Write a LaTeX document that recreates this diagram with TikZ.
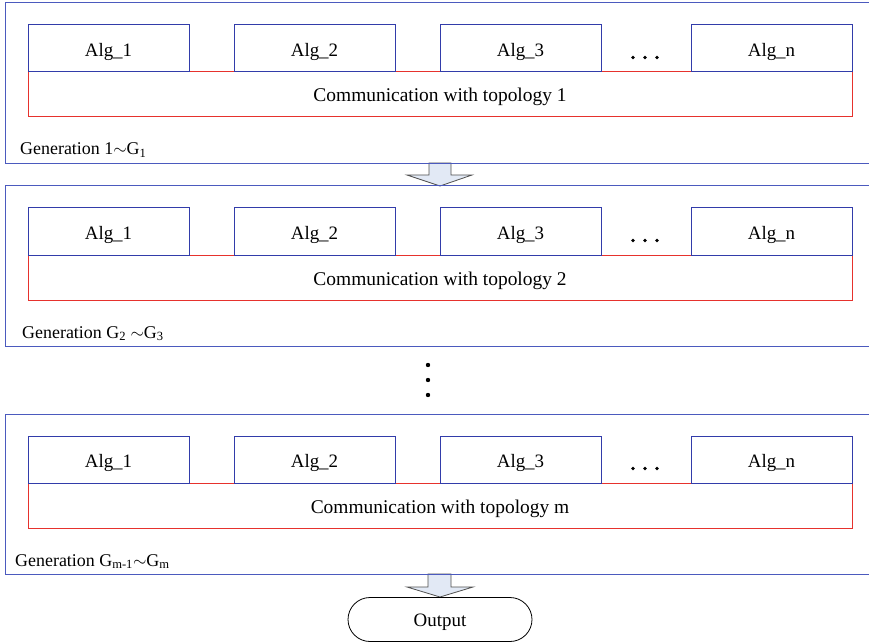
\documentclass[tikz,border=0pt]{standalone}
\usepackage{fontspec}
\setmainfont{Liberation Serif}
\usetikzlibrary{shapes.misc,calc}
\definecolor{outerblue}{RGB}{75,90,190}
\definecolor{algblue}{RGB}{50,60,170}
\definecolor{commred}{RGB}{230,50,45}
\definecolor{arrowfill}{RGB}{226,233,245}
\definecolor{arrowline}{RGB}{80,80,80}
\tikzset{
  outerbox/.style={draw=outerblue, line width=1bp, anchor=north west, minimum width=880bp, minimum height=160bp, inner sep=0pt, outer sep=0pt},
  commbox/.style={draw=commred, line width=1bp, anchor=north west, minimum width=824bp, minimum height=45bp, inner sep=0pt, outer sep=0pt},
  algbox/.style={draw=algblue, fill=white, line width=1bp, anchor=north west, minimum width=161bp, minimum height=47bp, inner sep=0pt, outer sep=0pt, font=\fontsize{19}{22}\selectfont, text height=17bp, text depth=1bp},
  commtext/.style={inner sep=0pt, font=\fontsize{19.5}{22}\selectfont, text height=16.5bp, text depth=1.5bp},
  genlabel/.style={anchor=base west, inner sep=0pt, font=\fontsize{18}{21}\selectfont},
  blockarrow/.style={draw=arrowline, fill=arrowfill, line width=0.8bp, line join=miter},
  outnode/.style={draw=black, rounded rectangle, line width=0.8bp, minimum width=184bp, minimum height=44bp, inner sep=0pt, font=\fontsize{19}{22}\selectfont, text height=15bp, text depth=1bp},
  dot/.style={fill=black}
}
\begin{document}
\begin{tikzpicture}[x=1bp,y=-1bp]
\useasboundingbox (0,0) rectangle (869,643);
\clip (0,0) rectangle (869,643);
% block arrows (drawn first, box borders on top)
\draw[blockarrow] (429,163) -- (429,175) -- (407,175) -- (440,186) -- (472,175) -- (451,175) -- (451,163) -- cycle;
\draw[blockarrow] (428,574) -- (428,587) -- (407,587) -- (440,597) -- (473,587) -- (451,587) -- (451,574) -- cycle;
\foreach \i/\t/\lx/\lab in {1/3/20/{Generation 1$\sim$G\textsubscript{1}},
                            2/186/22/{Generation G\textsubscript{2} $\sim$G\textsubscript{3}},
                            3/414/15/{Generation G\textsubscript{m-1}$\sim$G\textsubscript{m}}}{
  \node[outerbox] (g\i) at (5,\t) {};
  \node[commbox] (c\i) at (28,\t+69) {};
  \node[algbox] (a\i1) at (28,\t+22) {Alg\_1};
  \node[algbox] (a\i2) at (234,\t+22) {Alg\_2};
  \node[algbox] (a\i3) at (440,\t+22) {Alg\_3};
  \node[algbox] (a\i4) at (691,\t+22) {Alg\_n};
  \fill[dot] (633,\t+54.5) circle[radius=1.9bp];
  \fill[dot] (645,\t+54.5) circle[radius=1.9bp];
  \fill[dot] (657,\t+54.5) circle[radius=1.9bp];
  \node[genlabel] (l\i) at (\lx,\t+152) {\lab};
}
\node[commtext] (t1) at (c1.center) {Communication with topology 1};
\node[commtext] (t2) at (c2.center) {Communication with topology 2};
\node[commtext] (t3) at (c3.center) {Communication with topology m};
% vertical dots
\fill[dot] (428,365) circle[radius=2.2bp];
\fill[dot] (428,380) circle[radius=2.2bp];
\fill[dot] (428,395) circle[radius=2.2bp];
\node[outnode] (out) at (440,619.5) {Output};
\end{tikzpicture}
\end{document}
